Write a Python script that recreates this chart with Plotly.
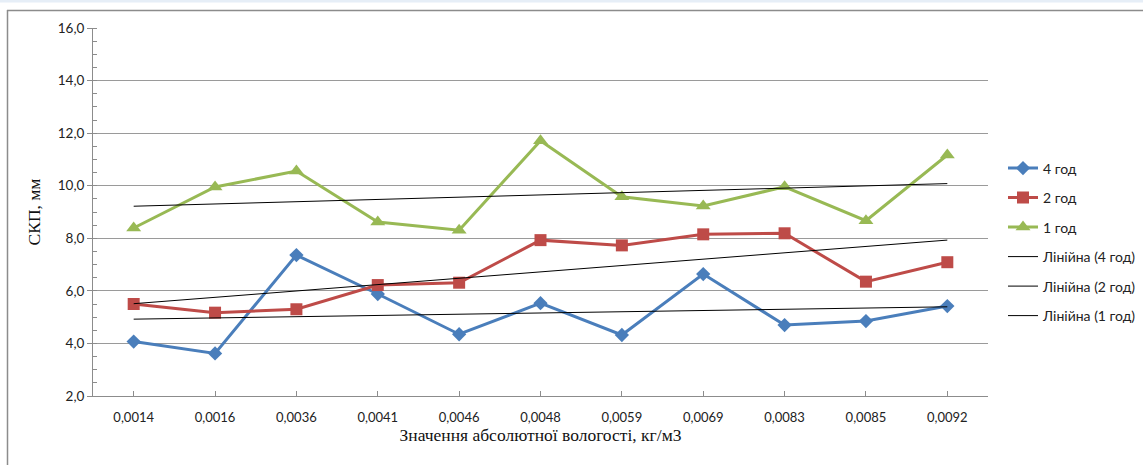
import numpy as np
import plotly.graph_objects as go

categories = ["0,0014", "0,0016", "0,0036", "0,0041", "0,0046", "0,0048",
              "0,0059", "0,0069", "0,0083", "0,0085", "0,0092"]
s4 = [4.07, 3.62, 7.36, 5.88, 4.35, 5.53, 4.32, 6.64, 4.70, 4.85, 5.42]
s2 = [5.50, 5.17, 5.30, 6.22, 6.31, 7.93, 7.73, 8.15, 8.19, 6.35, 7.09]
s1 = [8.39, 9.95, 10.56, 8.62, 8.31, 11.71, 9.58, 9.23, 9.96, 8.67, 11.17]
names = ["4 год", "2 год", "1 год"]
trend_names = ["Лінійна (4 год)", "Лінійна (2 год)", "Лінійна (1 год)"]
yticks = [2, 4, 6, 8, 10, 12, 14, 16]

W, H = 1143, 465
L, R, T, B = 93, 988, 28, 396

def px(x):
    return (x - L) / (R - L)

def py(y):
    return (B - y) / (B - T)

colors = ["#4a7ebb", "#be4b48", "#98b954"]
symbols = ["diamond", "square", "triangle-up"]
msize = [11, 12, 13]

fig = go.Figure()
series = [s4, s2, s1]
for i, (s, n) in enumerate(zip(series, names)):
    fig.add_trace(go.Scatter(
        x=categories, y=s, name=n, mode="lines+markers",
        line=dict(color=colors[i], width=3),
        marker=dict(symbol=symbols[i], size=msize[i], color=colors[i]),
        legendgroup="g%d" % i,
    ))
idx = np.arange(len(categories))
for i, (s, n) in enumerate(zip(series, trend_names)):
    k, b = np.polyfit(idx, np.array(s), 1)
    fig.add_trace(go.Scatter(
        x=categories, y=(k * idx + b), name=n, mode="lines",
        line=dict(color="#000000", width=1),
        legendgroup="t%d" % i,
    ))

shapes = [
    dict(type="line", xref="paper", yref="paper", x0=px(7), x1=px(W + 5),
         y0=py(10.5), y1=py(10.5), line=dict(color="#8c8c8c", width=1.5)),
    dict(type="line", xref="paper", yref="paper", x0=px(7.5), x1=px(7.5),
         y0=py(10), y1=py(H + 5), line=dict(color="#8c8c8c", width=1.5)),
    dict(type="rect", xref="paper", yref="paper", x0=px(-5), x1=px(W + 5),
         y0=py(2.5), y1=py(-5), fillcolor="#e6eef7", line=dict(width=0)),
]

fig.update_layout(
    width=W, height=H,
    margin=dict(l=L, r=W - R, t=T, b=H - B, autoexpand=False),
    paper_bgcolor="white", plot_bgcolor="white",
    separators=", ",
    font=dict(family="Lato, Open Sans, sans-serif", size=13, color="#222222"),
    showlegend=True,
    legend=dict(x=px(1003), xanchor="left", y=py(242), yanchor="middle",
                traceorder="grouped", tracegroupgap=8.3,
                font=dict(family="Lato, Open Sans, sans-serif", size=14, color="#222222"),
                itemwidth=30),
    shapes=shapes,
)
fig.update_xaxes(
    type="category", showgrid=False, showline=True, linecolor="#8c8c8c", linewidth=1,
    ticks="inside", ticklen=5, tickcolor="#8c8c8c", tickfont=dict(size=13),
    ticklabelstandoff=9,
    title=dict(text="Значення абсолютної вологості, кг/м3",
               font=dict(family="Liberation Serif", size=17.5, color="#111111"),
               standoff=4),
    range=[-0.5, len(categories) - 0.5],
    automargin=False,
)
fig.update_yaxes(
    range=[2, 16], tickvals=yticks, tickformat=".1f",
    showgrid=True, gridcolor="#9a9a9a", gridwidth=1,
    showline=True, linecolor="#8c8c8c", linewidth=1,
    ticks="outside", ticklen=5, tickcolor="#8c8c8c", tickfont=dict(size=13.5),
    minor=dict(dtick=0.5, ticks="inside", ticklen=4, tickcolor="#8c8c8c", showgrid=False),
    zeroline=False,
    automargin=False,
    title=dict(text="СКП, мм",
               font=dict(family="Liberation Serif", size=17.5, color="#111111"),
               standoff=12),
)

fig.write_html("out.html", config={"displayModeBar": False},
               post_script="document.body.style.margin='0';document.body.style.overflow='hidden';")
